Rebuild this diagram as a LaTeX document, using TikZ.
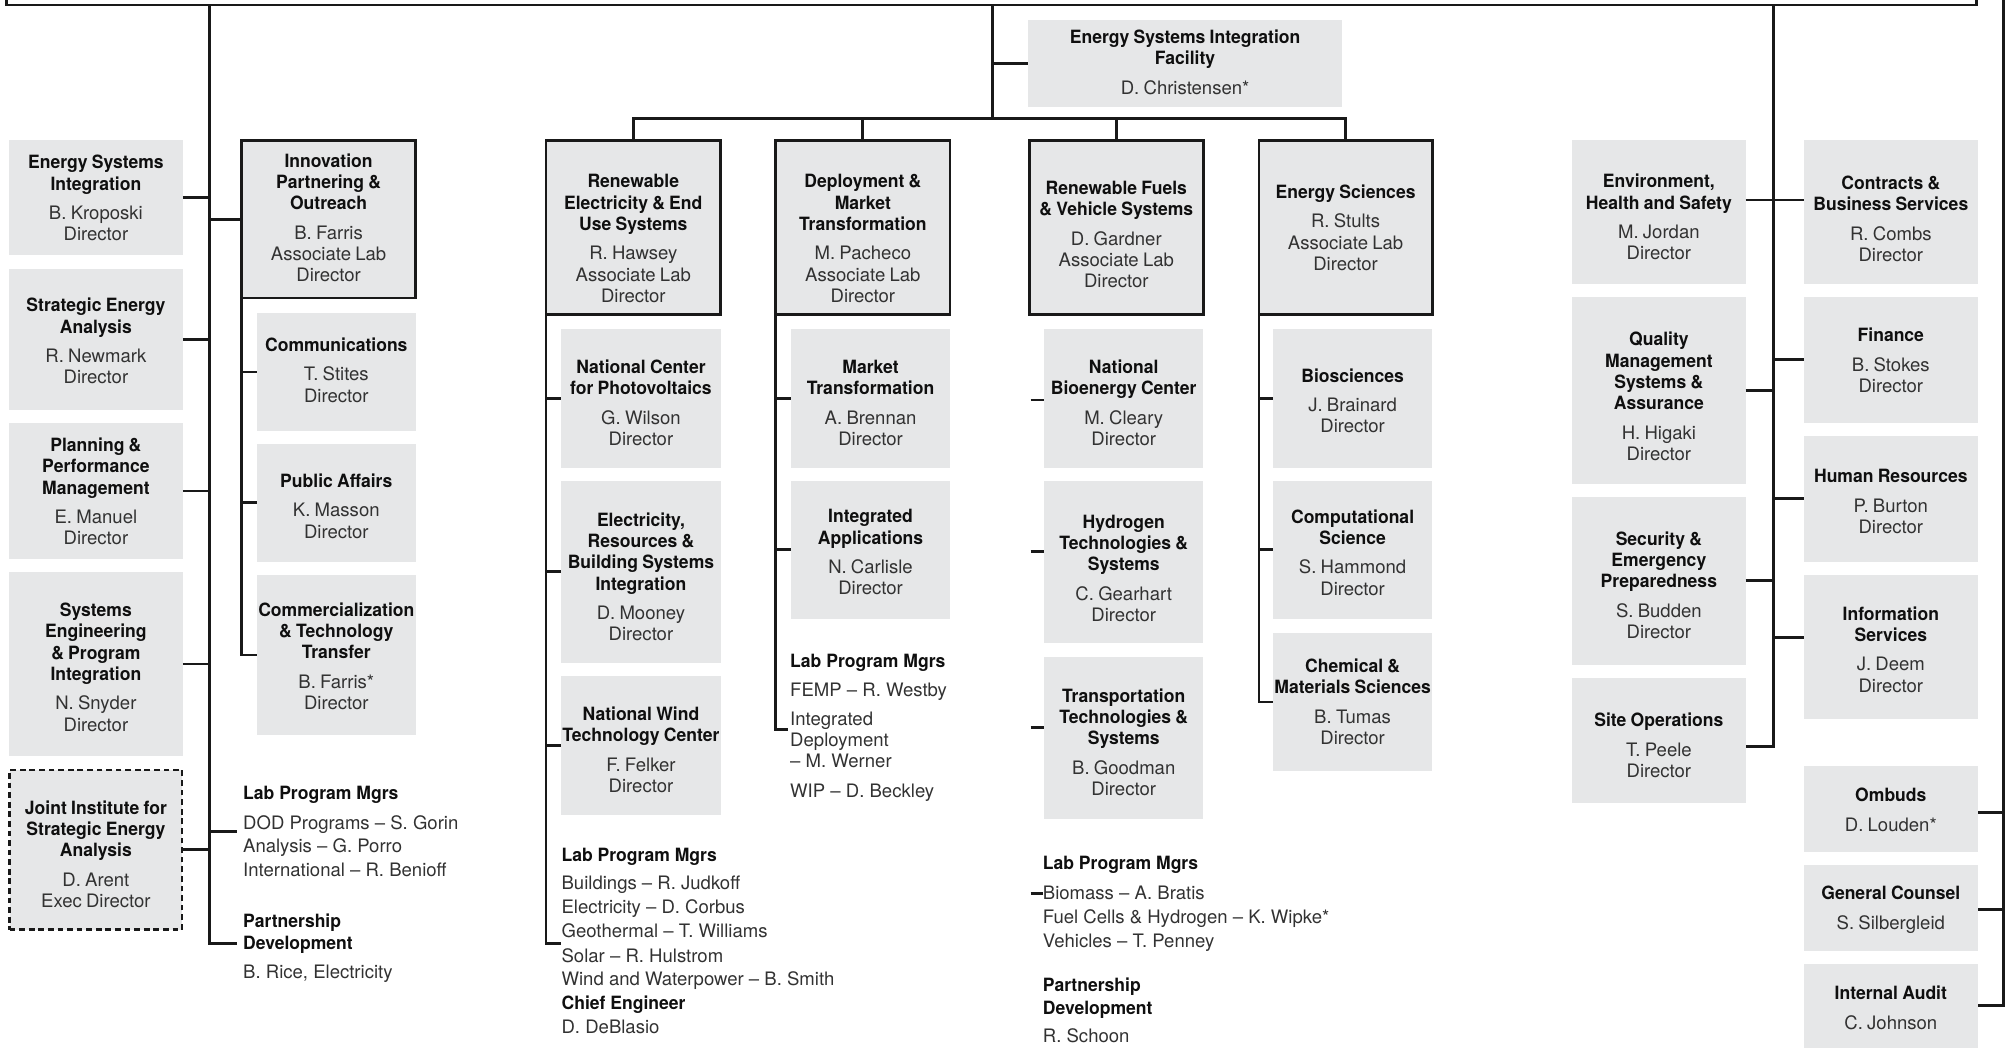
\documentclass[tikz,border=0pt]{standalone}
\usepackage{fontspec}
\setmainfont{TeX Gyre Heros}[BoldFeatures={FakeStretch=0.96}]
\usetikzlibrary{calc}
\definecolor{boxgray}{RGB}{230,231,232}
\definecolor{namecol}{RGB}{50,50,50}
\definecolor{titlecol}{RGB}{15,15,15}
\definecolor{linecol}{RGB}{25,25,25}
\newcommand{\Tfont}{\fontsize{14.3}{16.6}\selectfont\bfseries\color{titlecol}}
\newcommand{\Nfont}{\fontsize{14.5}{16.6}\selectfont\color{namecol}}
\newcommand{\boxtxt}[2]{{\Tfont #1\par}\vspace{6.5pt}{\Nfont #2\par}}
% style, name, x1, y1, x2, y2, dy, content
\newcommand{\orgbox}[8]{%
  \pgfmathsetmacro\bw{#5-#3}%
  \pgfmathsetmacro\bh{#6-#4}%
  \pgfmathsetmacro\tw{#5-#3+10}%
  \pgfmathsetmacro\bx{(#3+#5)/2}%
  \pgfmathsetmacro\bcy{(#4+#6)/2}%
  \pgfmathsetmacro\by{(#4+#6)/2+#7}%
  \node[#1, minimum width=\bw pt, minimum height=\bh pt] (#2) at (\bx,\bcy) {};
  \node[txt, text width=\tw pt] (#2-t) at (\bx,\by) {#8};
}
\begin{document}
\begin{tikzpicture}[x=1pt,y=-1pt,
  gbox/.style={fill=boxgray, draw=none, inner sep=0pt, outer sep=0pt},
  bbox/.style={fill=boxgray, draw=linecol, line width=2.2pt, inner sep=0pt, outer sep=0pt},
  dbox/.style={fill=boxgray, draw=linecol, line width=2pt, dash pattern=on 4.5pt off 3pt, inner sep=0pt, outer sep=0pt},
  txt/.style={align=center, inner sep=0pt},
  conn/.style={draw=linecol, line width=2.3pt},
  ft/.style={anchor=west, inner sep=0pt, text height=11pt, text depth=2pt, font=\fontsize{14.5}{16.6}\selectfont, text=namecol},
  fth/.style={anchor=west, inner sep=0pt, text height=11pt, text depth=2pt, font=\fontsize{14.3}{16.6}\selectfont\bfseries, text=titlecol}]
\useasboundingbox (0,0) rectangle (1568,819);

% frame of the box above
\draw[conn] (5.2,-4) -- (5.2,3.9) -- (1545.4,3.9) -- (1545.4,-4);

\coordinate (Lspine) at (164,3.9);
\coordinate (Cspine) at (776,3.9);
\coordinate (Cbar) at (776,93);
\coordinate (Rspine) at (1386.7,3.9);
\coordinate (FRspine) at (1566.6,-4);

% ---------- left column ----------
\orgbox{gbox}{esi}{7}{109.5}{143}{199.5}{0.5}{\boxtxt{Energy Systems\\Integration}{B. Kroposki\\Director}}
\orgbox{gbox}{sea}{7}{210}{143}{320.6}{1.5}{\boxtxt{Strategic Energy\\Analysis}{R. Newmark\\Director}}
\orgbox{gbox}{ppm}{7}{331}{143}{437}{0.5}{\boxtxt{Planning \&\\Performance\\Management}{E. Manuel\\Director}}
\orgbox{gbox}{sepi}{7}{447.5}{143}{591}{2.5}{\boxtxt{Systems\\Engineering\\\& Program\\Integration}{N. Snyder\\Director}}
\orgbox{dbox}{jisea}{7.5}{602}{142.5}{727}{3.5}{\boxtxt{Joint Institute for\\Strategic Energy\\Analysis}{D. Arent\\Exec Director}}

% ---------- innovation column ----------
\orgbox{bbox}{ipo}{189}{110}{325}{233}{-1}{\boxtxt{Innovation\\Partnering \&\\Outreach}{B. Farris\\Associate Lab\\Director}}
\orgbox{gbox}{comm}{201}{245}{325}{336.8}{-1.5}{\boxtxt{Communications}{T. Stites\\Director}}
\orgbox{gbox}{pa}{201}{347}{325}{439.5}{2.5}{\boxtxt{Public Affairs}{K. Masson\\Director}}
\orgbox{gbox}{cct}{201}{449.7}{325}{574.8}{1}{\boxtxt{Commercialization\\\& Technology\\Transfer}{B. Farris*\\Director}}

\node[fth] (lpm0) at (190,621) {Lab Program Mgrs};
\node[ft] (lpm1) at (190,644) {DOD Programs – S. Gorin};
\node[ft] (lpm2) at (190,662.5) {Analysis – G. Porro};
\node[ft] (lpm3) at (190,681) {International – R. Benioff};
\node[fth] (pd0) at (190,721) {Partnership};
\node[fth] (pd1) at (190,738) {Development};
\node[ft] (pd2) at (190,761) {B. Rice, Electricity};
\coordinate (lpmhook) at (185,650.4);

% ---------- ESIF ----------
\orgbox{gbox}{esif}{804}{15.6}{1049.6}{84}{-1.3}{\boxtxt{Energy Systems Integration\\Facility}{D. Christensen*}}

% ---------- directorates ----------
\orgbox{bbox}{reus}{427}{110}{563.5}{246}{8.5}{\boxtxt{Renewable\\Electricity \& End\\Use Systems}{R. Hawsey\\Associate Lab\\Director}}
\orgbox{bbox}{dmt}{606.6}{110}{743}{246}{8.5}{\boxtxt{Deployment \&\\Market\\Transformation}{M. Pacheco\\Associate Lab\\Director}}
\orgbox{bbox}{rfvs}{805}{110}{941}{246}{5.5}{\boxtxt{Renewable Fuels\\\& Vehicle Systems}{D. Gardner\\Associate Lab\\Director}}
\orgbox{bbox}{es}{984.6}{110}{1120}{246}{0}{\boxtxt{Energy Sciences}{R. Stults\\Associate Lab\\Director}}

\orgbox{gbox}{ncpv}{439}{257.3}{563.5}{365.7}{3.5}{\boxtxt{National Center\\for Photovoltaics}{G. Wilson\\Director}}
\orgbox{gbox}{erbs}{439}{376}{563.5}{518.5}{4}{\boxtxt{Electricity,\\Resources \&\\Building Systems\\Integration}{D. Mooney\\Director}}
\orgbox{gbox}{nwtc}{439}{529}{563.5}{637.4}{3}{\boxtxt{National Wind\\Technology Center}{F. Felker\\Director}}

\orgbox{gbox}{mt}{618.6}{257.3}{743}{365.7}{3.5}{\boxtxt{Market\\Transformation}{A. Brennan\\Director}}
\orgbox{gbox}{ia}{618.6}{376}{743}{484}{2}{\boxtxt{Integrated\\Applications}{N. Carlisle\\Director}}

\orgbox{gbox}{nbc}{816.6}{257.3}{941}{365.7}{3.5}{\boxtxt{National\\Bioenergy Center}{M. Cleary\\Director}}
\orgbox{gbox}{h2}{816.6}{376}{941}{503}{5}{\boxtxt{Hydrogen\\Technologies \&\\Systems}{C. Gearhart\\Director}}
\orgbox{gbox}{tts}{816.6}{513.5}{941}{640.5}{3.5}{\boxtxt{Transportation\\Technologies \&\\Systems}{B. Goodman\\Director}}

\orgbox{gbox}{bio}{995.6}{257.3}{1120}{365.7}{2}{\boxtxt{Biosciences}{J. Brainard\\Director}}
\orgbox{gbox}{comp}{995.6}{376}{1120}{484}{2}{\boxtxt{Computational\\Science}{S. Hammond\\Director}}
\orgbox{gbox}{chem}{995.6}{495}{1120}{603}{0}{\boxtxt{Chemical \&\\Materials Sciences}{B. Tumas\\Director}}

% lab program lists
\node[fth] (lr0) at (439,669) {Lab Program Mgrs};
\node[ft] (lr1) at (439,691) {Buildings – R. Judkoff};
\node[ft] (lr2) at (439,710) {Electricity – D. Corbus};
\node[ft] (lr3) at (439,729) {Geothermal – T. Williams};
\node[ft] (lr4) at (439,748) {Solar – R. Hulstrom};
\node[ft] (lr5) at (439,766.5) {Wind and Waterpower – B. Smith};
\node[fth] (lr6) at (439,785) {Chief Engineer};
\node[ft] (lr7) at (439,804) {D. DeBlasio};
\coordinate (rhook) at (439,738);

\node[fth] (ld0) at (617.8,517.5) {Lab Program Mgrs};
\node[ft] (ld1) at (617.8,540) {FEMP – R. Westby};
\node[ft] (ld2) at (617.8,563) {Integrated};
\node[ft] (ld3) at (617.8,579.5) {Deployment};
\node[ft] (ld4) at (617.8,596) {– M. Werner};
\node[ft] (ld5) at (617.8,619) {WIP – D. Beckley};
\coordinate (dhook) at (616.5,570.4);

\node[fth] (lf0) at (815.4,675.7) {Lab Program Mgrs};
\node[ft] (lf1) at (815.4,699) {Biomass – A. Bratis};
\node[ft] (lf2) at (815.4,718) {Fuel Cells \& Hydrogen – K. Wipke*};
\node[ft] (lf3) at (815.4,736.4) {Vehicles – T. Penney};
\node[fth] (lf4) at (815.4,771) {Partnership};
\node[fth] (lf5) at (815.4,788.5) {Development};
\node[ft] (lf6) at (815.4,810.7) {R. Schoon};

% ---------- right columns ----------
\orgbox{gbox}{ehs}{1229.4}{109.5}{1365.2}{221.8}{4.3}{\boxtxt{Environment,\\Health and Safety}{M. Jordan\\Director}}
\orgbox{gbox}{qm}{1229.4}{232.3}{1365.2}{378.3}{4.7}{\boxtxt{Quality\\Management\\Systems \&\\Assurance}{H. Higaki\\Director}}
\orgbox{gbox}{sep}{1229.4}{388.7}{1365.2}{519.8}{3.2}{\boxtxt{Security \&\\Emergency\\Preparedness}{S. Budden\\Director}}
\orgbox{gbox}{site}{1229.4}{530.2}{1365.2}{628.2}{3.8}{\boxtxt{Site Operations}{T. Peele\\Director}}
\orgbox{gbox}{cbs}{1410.8}{109.5}{1546.6}{221.8}{5.3}{\boxtxt{Contracts \&\\Business Services}{R. Combs\\Director}}
\orgbox{gbox}{fin}{1410.8}{232.3}{1546.6}{330.5}{0.6}{\boxtxt{Finance}{B. Stokes\\Director}}
\orgbox{gbox}{hr}{1410.8}{341}{1546.6}{439.3}{2.3}{\boxtxt{Human Resources}{P. Burton\\Director}}
\orgbox{gbox}{is}{1410.8}{449.7}{1546.6}{562}{2.1}{\boxtxt{Information\\Services}{J. Deem\\Director}}
\orgbox{gbox}{omb}{1410.8}{599}{1546.6}{666}{1}{\boxtxt{Ombuds}{D. Louden*}}
\orgbox{gbox}{gc}{1410.8}{676.5}{1546.6}{743.5}{1.5}{\boxtxt{General Counsel}{S. Silbergleid}}
\orgbox{gbox}{iaud}{1410.8}{754}{1546.6}{830}{-4}{\boxtxt{Internal Audit}{C. Johnson}}

% ---------- connectors ----------
% left spine
\draw[conn] (Lspine) |- ($(pd1.west)+(-5,0)$);
\foreach \n in {esi,sea,ppm,sepi,jisea} \draw[conn] (\n.east) -- (\n.east -| Lspine);
\draw[conn] (Lspine |- ipo.west) -- (ipo.west);
\draw[conn] (lpmhook -| Lspine) -- (lpmhook);
% innovation
\draw[conn] (ipo.south west) |- (cct.west);
\foreach \n in {comm,pa} \draw[conn] (ipo.south west |- \n.west) -- (\n.west);
% centre
\draw[conn] (Cspine) -- (Cbar);
\draw[conn] (Cspine |- esif.west) -- (esif.west);
\draw[conn] (reus.north) |- (Cbar) -| (es.north);
\draw[conn] (dmt.north) -- (dmt.north |- Cbar);
\draw[conn] (rfvs.north) -- (rfvs.north |- Cbar);
% renewable electricity
\draw[conn] (reus.south west) |- (rhook);
\foreach \n in {ncpv,erbs,nwtc} \draw[conn] (reus.south west |- \n.west) -- (\n.west);
% deployment
\draw[conn] (dmt.south west) |- (dhook);
\foreach \n in {mt,ia} \draw[conn] (dmt.south west |- \n.west) -- (\n.west);
% fuels: stubs only
\coordinate (nstub) at (806,312.8);
\coordinate (hstub) at (806,431);
\coordinate (tstub) at (806,569);
\coordinate (bstub) at (806,699);
\draw[conn] (nstub) -- (nstub -| nbc.west);
\draw[conn] (hstub) -- (hstub -| h2.west);
\draw[conn] (tstub) -- (tstub -| tts.west);
\draw[conn] (bstub) -- (bstub -| lf1.west);
% energy sciences
\draw[conn] (es.south west) |- (chem.west);
\foreach \n in {bio,comp} \draw[conn] (es.south west |- \n.west) -- (\n.west);
% right spine
\coordinate (ehsc) at (0,156.4);
\coordinate (sitec) at (0,584);
\coordinate (isc) at (0,498.2);
\draw[conn] (ehs.east |- ehsc) -- (cbs.west |- ehsc);
\draw[conn] (Rspine) -- (Rspine |- sitec) -- (site.east |- sitec);
\foreach \n in {qm,sep} \draw[conn] (\n.east) -- (\n.east -| Rspine);
\foreach \n in {fin,hr} \draw[conn] (\n.west -| Rspine) -- (\n.west);
\draw[conn] (isc -| Rspine) -- (isc -| is.west);
% far right spine
\coordinate (ombc) at (0,635.6);
\coordinate (gcc) at (0,711);
\coordinate (iac) at (0,786);
\draw[conn] (FRspine) |- (iaud.east |- iac);
\draw[conn] (ombc -| FRspine) -- (ombc -| omb.east);
\draw[conn] (gcc -| FRspine) -- (gcc -| gc.east);
\end{tikzpicture}
\end{document}
